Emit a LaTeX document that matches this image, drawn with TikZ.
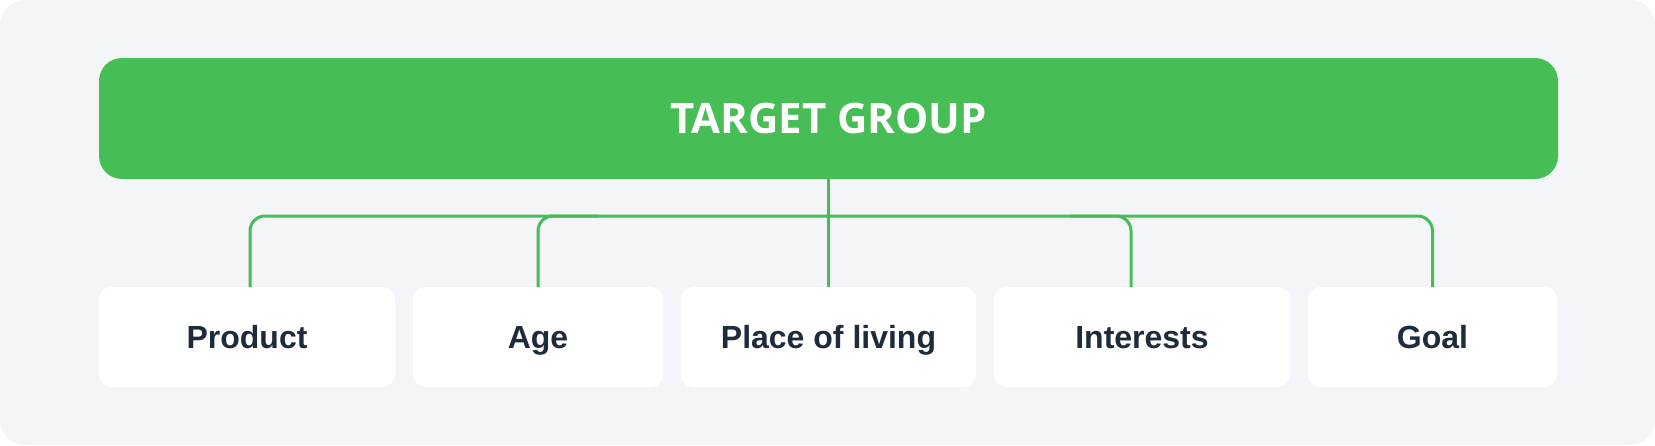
\documentclass[tikz,border=0pt]{standalone}
\usepackage{fontspec}
\setmainfont{Liberation Sans}
\newfontfamily\titlefont{Open Sans}
\usetikzlibrary{positioning}
\definecolor{tggreen}{HTML}{46BE55}
\definecolor{tgback}{HTML}{F4F5F9}
\definecolor{tgtext}{HTML}{1E2B3C}
\tikzset{
  top/.style = {fill=tggreen, rounded corners=11.5pt, minimum width=729.5pt, minimum height=60.5pt,
                outer sep=0pt, text=white, font=\titlefont\bfseries\fontsize{21}{24}\selectfont,
                text height=15pt, text depth=0pt},
  leaf/.style = {fill=white, rounded corners=6pt, minimum height=50pt, outer sep=0pt, text=tgtext,
                 font=\bfseries\fontsize{16}{19}\selectfont, text height=11.5pt, text depth=0pt},
  link/.style = {draw=tggreen, line width=1.5pt, rounded corners=7.5pt}
}

\begin{document}
\begin{tikzpicture}[x=0.5pt, y=-0.5pt, node distance=9pt]
    \fill[white] (0,0) rectangle (1655,445);
    \fill[tgback, rounded corners=12.5pt] (0,0) rectangle (1655,445);
    \useasboundingbox (0,0) rectangle (1655,445);

    \node[top] (tg) at (828.5,118.5) {TARGET GROUP};
    \node[leaf, minimum width=148pt] (prod) at (247,337) {Product};
    \node[leaf, minimum width=125pt, right=of prod] (age) {Age};
    \node[leaf, minimum width=147.5pt, right=of age] (place) {Place of living};
    \node[leaf, minimum width=148pt, right=of place] (int) {Interests};
    \node[leaf, minimum width=124.5pt, right=of int] (goal) {Goal};

    \coordinate (bus) at (829,216);
    \coordinate (p) at ([xshift=1.5pt]prod.north);
    \coordinate (i) at ([xshift=-5.5pt]int.north);
    \coordinate (a1) at ([xshift=30pt]age.north);
    \coordinate (i1) at ([xshift=-30pt]i);

    \draw[link] (p) |- (bus) -| (goal.north);
    \draw[link] (tg.south) -- (place.north);
    \draw[link] (age.north) |- (a1 |- bus);
    \draw[link] (i) |- (i1 |- bus);
\end{tikzpicture}
\end{document}
